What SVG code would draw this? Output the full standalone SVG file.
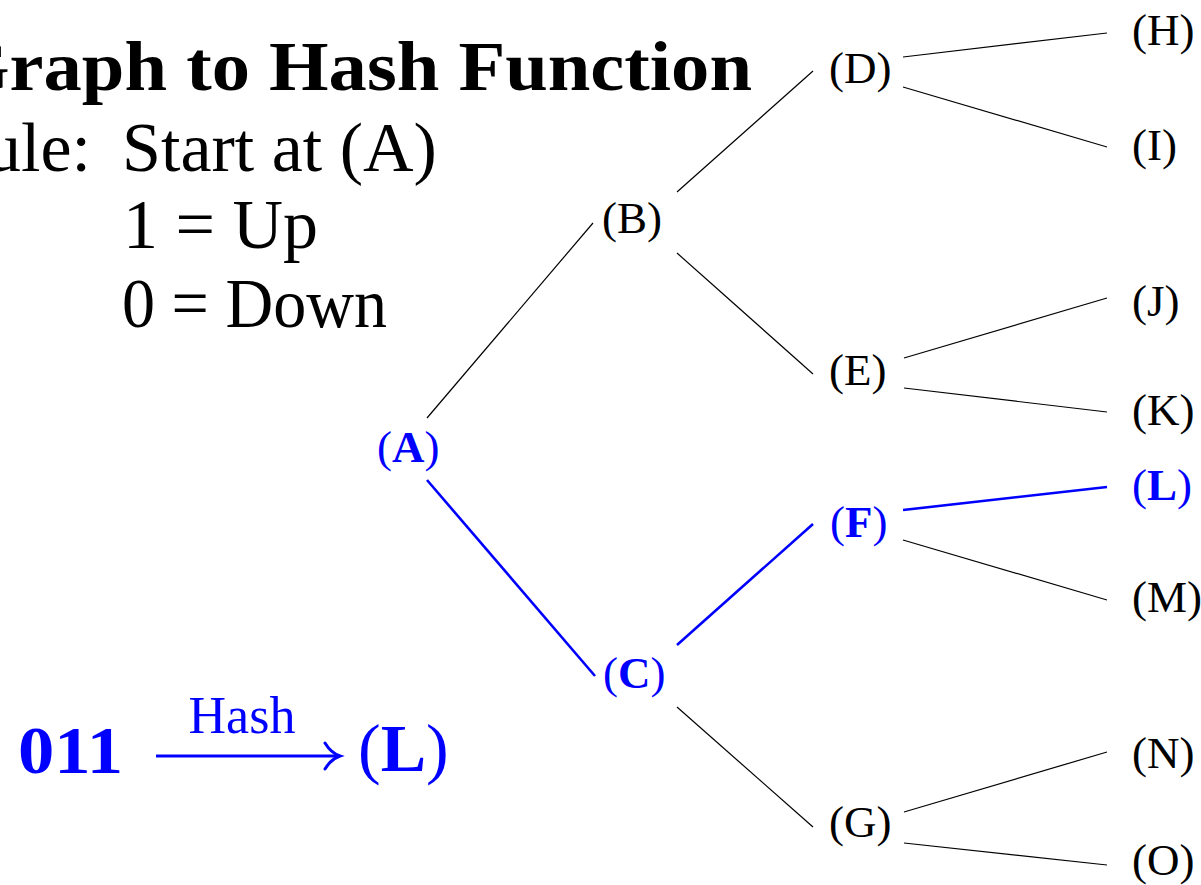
<svg xmlns="http://www.w3.org/2000/svg" width="1201" height="885" viewBox="0 0 1201 885">
<style>
text{font-family:"Liberation Serif","Times New Roman",serif;}
.n{font-size:45px;fill:#000;}
.hl{fill:#0000ff;}
.b{font-weight:bold;}
.e{stroke:#000;stroke-width:1.2;fill:none;}
.eh{stroke:#0000ff;stroke-width:2.6;fill:none;}
.big{font-size:70px;fill:#000;}
</style>
<rect width="1201" height="885" fill="#fff"/>
<g id="title">
<text x="-50" y="90" class="big b" textLength="802" lengthAdjust="spacingAndGlyphs">Graph to Hash Function</text>
</g>
<g id="rules">
<text x="91" y="171" class="big" text-anchor="end">Rule:</text>
<text x="122" y="171" class="big">Start at (A)</text>
<text x="123" y="248" class="big">1 = Up</text>
<text x="122" y="327" class="big" textLength="265" lengthAdjust="spacingAndGlyphs">0 = Down</text>
</g>
<g id="connectors">
<line class="e" x1="427" y1="418" x2="593" y2="223"/>
<line class="eh" x1="427" y1="480" x2="595" y2="676"/>
<line class="e" x1="677" y1="192" x2="813" y2="71"/>
<line class="e" x1="677" y1="253" x2="813" y2="374"/>
<line class="eh" x1="677" y1="645" x2="813" y2="524"/>
<line class="e" x1="677" y1="707" x2="813" y2="827"/>
<line class="e" x1="903" y1="57" x2="1107" y2="33"/>
<line class="e" x1="903" y1="87" x2="1107" y2="147"/>
<line class="e" x1="904" y1="358" x2="1107" y2="298"/>
<line class="e" x1="904" y1="388" x2="1107" y2="412"/>
<line class="eh" x1="903" y1="510" x2="1107" y2="487"/>
<line class="e" x1="903" y1="540" x2="1107" y2="600"/>
<line class="e" x1="904" y1="812" x2="1107" y2="752"/>
<line class="e" x1="904" y1="843" x2="1107" y2="865"/>
</g>
<g id="node-A"><text x="377" y="462" class="n hl">(<tspan class="b">A</tspan>)</text></g>
<g id="node-B"><text x="602" y="233" class="n">(B)</text></g>
<g id="node-C"><text x="603" y="688" class="n hl">(<tspan class="b">C</tspan>)</text></g>
<g id="node-D"><text x="829" y="83" class="n">(D)</text></g>
<g id="node-E"><text x="829" y="385" class="n">(E)</text></g>
<g id="node-F"><text x="830" y="537" class="n hl">(<tspan class="b">F</tspan>)</text></g>
<g id="node-G"><text x="829" y="837" class="n">(G)</text></g>
<g id="node-H"><text x="1132" y="45" class="n">(H)</text></g>
<g id="node-I"><text x="1132" y="160" class="n">(I)</text></g>
<g id="node-J"><text x="1132" y="316" class="n">(J)</text></g>
<g id="node-K"><text x="1132" y="425" class="n">(K)</text></g>
<g id="node-L"><text x="1132" y="500" class="n hl">(<tspan class="b">L</tspan>)</text></g>
<g id="node-M"><text x="1132" y="612" class="n">(M)</text></g>
<g id="node-N"><text x="1132" y="768" class="n">(N)</text></g>
<g id="node-O"><text x="1132" y="875" class="n">(O)</text></g>
<g id="hash">
<text x="18" y="773" class="b" style="font-size:68px;fill:#0000ff" textLength="105" lengthAdjust="spacingAndGlyphs">011</text>
<text x="242" y="733" text-anchor="middle" style="font-size:52px;fill:#0000ff">Hash</text>
<line x1="156" y1="756" x2="338" y2="756" stroke="#0000ff" stroke-width="3"/>
<path d="M325 743 Q331 753 340 756 Q331 759 325 769" stroke="#0000ff" stroke-width="3" fill="none" stroke-linecap="round"/>
<text x="358" y="771" style="font-size:68px;fill:#0000ff">(<tspan class="b">L</tspan>)</text>
</g>
</svg>
